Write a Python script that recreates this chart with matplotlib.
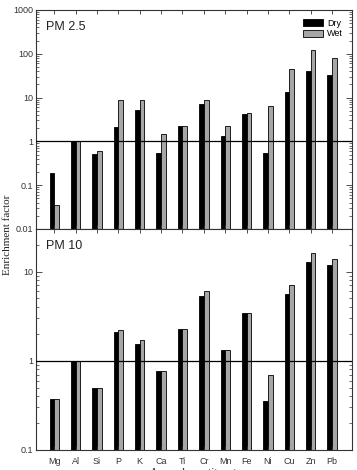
import matplotlib
matplotlib.use("Agg")
import matplotlib.pyplot as plt
import numpy as np
from matplotlib.ticker import LogLocator, FixedLocator, NullFormatter

# Element categories
elements = ["Mg", "Al", "Si", "P", "K", "Ca", "Ti", "Cr", "Mn", "Fe", "Ni", "Cu", "Zn", "Pb"]

# PM 2.5 enrichment factors
pm25_dry = [0.19, 1.0, 0.51, 2.1, 5.1, 0.55, 2.3, 7.2, 1.3, 4.2, 0.55, 13.6, 40, 33]
pm25_wet = [0.035, 1.0, 0.61, 9.0, 8.6, 1.45, 2.2, 8.8, 2.3, 4.4, 6.4, 44, 125, 80]

# PM 10 enrichment factors
pm10_dry = [0.37, 1.0, 0.49, 2.1, 1.55, 0.77, 2.26, 5.3, 1.33, 3.4, 0.35, 5.6, 12.7, 11.8]
pm10_wet = [0.37, 1.0, 0.49, 2.23, 1.72, 0.77, 2.26, 6.1, 1.33, 3.45, 0.69, 7.1, 16.1, 13.8]

plt.rcParams['font.family'] = ['Liberation Sans', 'DejaVu Sans']

fig = plt.figure(figsize=(3.57, 4.70), dpi=100)
ax1 = fig.add_axes([0.101, 0.5128, 0.885, 0.466])
ax2 = fig.add_axes([0.101, 0.0426, 0.885, 0.4702])

x = np.arange(len(elements))
w = 0.22
dark = "#000000"
grey = "#a6a6a6"


def draw_panel(ax, dry, wet, ylo, yhi, label):
    ax.set_yscale("log")
    ax.bar(x - w / 2, np.array(dry) - ylo, w, bottom=ylo, color=dark,
           edgecolor="black", linewidth=0.6, label="Dry")
    ax.bar(x + w / 2, np.array(wet) - ylo, w, bottom=ylo, color=grey,
           edgecolor="black", linewidth=0.6, label="Wet")
    ax.axhline(1, color="black", linewidth=0.9, zorder=3)
    ax.set_ylim(ylo, yhi)
    ax.set_xlim(-0.85, len(elements) - 1 + 0.93)
    ax.xaxis.set_major_locator(FixedLocator(x))
    ax.yaxis.set_minor_locator(LogLocator(base=10, subs=np.arange(2, 10), numticks=20))
    ax.yaxis.set_minor_formatter(NullFormatter())
    ax.tick_params(axis="both", which="both", direction="in", top=True, right=True,
                   labelsize=6.5, colors="#333333", labelcolor="#333333")
    ax.tick_params(axis="x", length=3, width=0.6)
    ax.tick_params(axis="y", which="major", length=4, width=0.6, pad=2)
    ax.tick_params(axis="y", which="minor", length=2, width=0.5)
    for s in ax.spines.values():
        s.set_linewidth(0.8)
        s.set_color("#333333")
    ax.text(0.03, 0.95, label, transform=ax.transAxes, fontsize=9,
            ha="left", va="top", color="#222222")


draw_panel(ax1, pm25_dry, pm25_wet, 0.01, 1000, "PM 2.5")
ax1.set_yticks([0.01, 0.1, 1, 10, 100, 1000])
ax1.set_yticklabels(["0.01", "0.1", "1", "10", "100", "1000"])
ax1.set_xticklabels([])
ax1.legend(loc="upper right", fontsize=6.5, frameon=False, handlelength=2.2,
           handleheight=0.8, labelspacing=0.15, borderaxespad=0.6, handletextpad=0.5)

draw_panel(ax2, pm10_dry, pm10_wet, 0.1, 30, "PM 10")
ax2.set_yticks([0.1, 1, 10])
ax2.set_yticklabels(["0.1", "1", "10"])
ax2.set_xticklabels(elements)
ax2.tick_params(axis="x", pad=5)

fig.text(0.02, 0.5, "Enrichment factor", rotation=90, ha="center", va="center",
         fontsize=8, family="Liberation Serif", color="#222222")
fig.text(0.54, -0.005, "Aerosol constituent", ha="center", va="center",
         fontsize=8, family="Liberation Serif", color="#222222")

fig.savefig("out.png", dpi=100)
